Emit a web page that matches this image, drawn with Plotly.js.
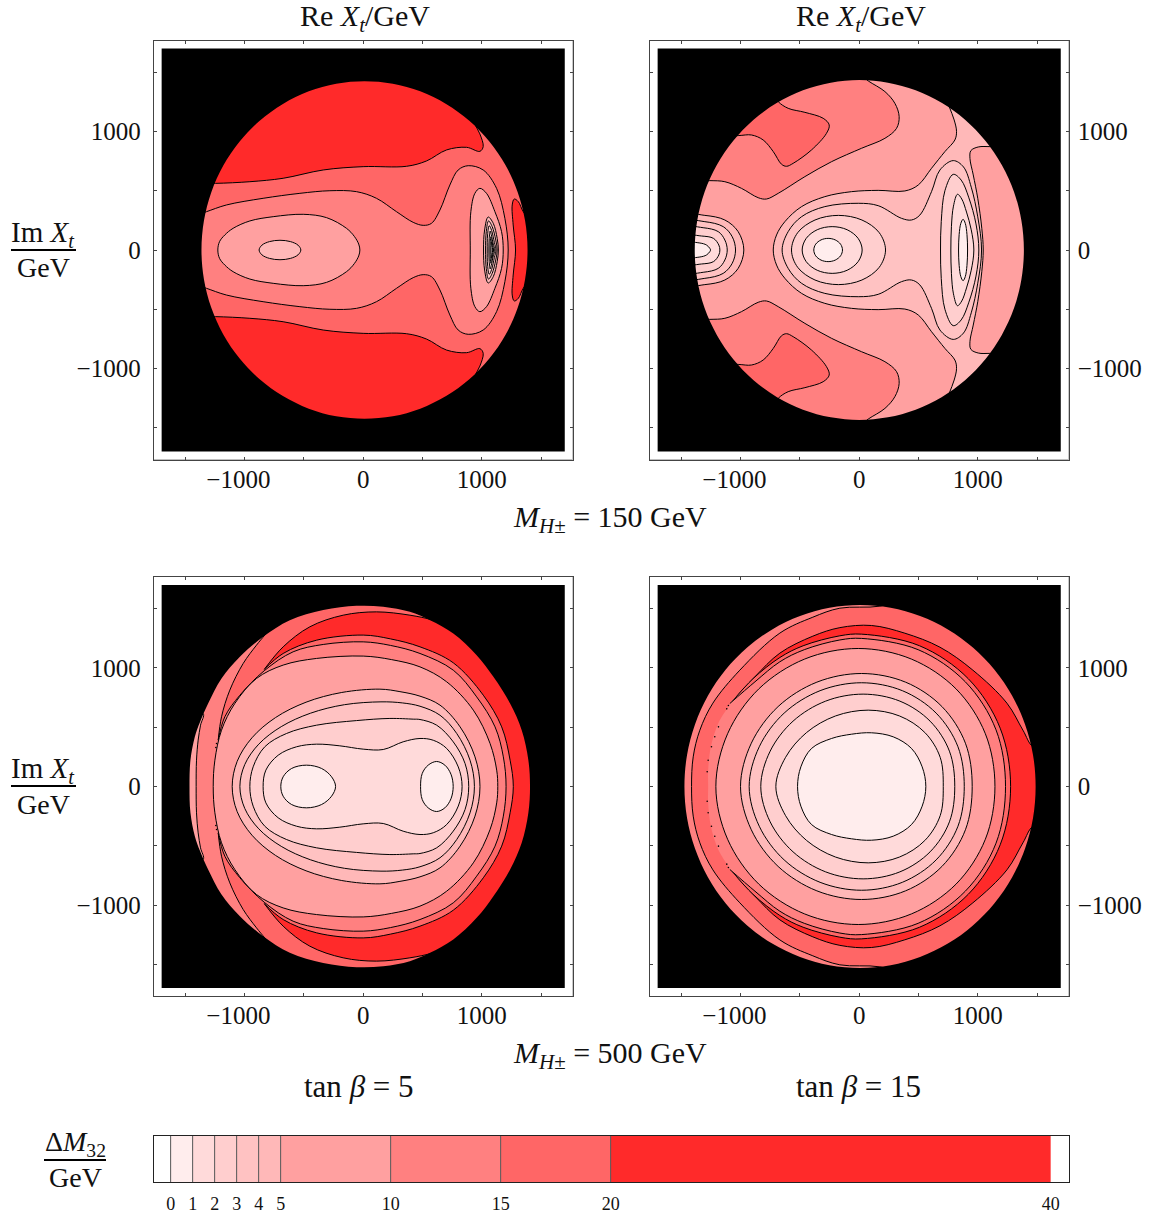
<!DOCTYPE html>
<html><head><meta charset="utf-8">
<script src="https://cdn.plot.ly/plotly-3.0.1.min.js"></script>
<style>html,body{margin:0;padding:0;background:#fff}</style></head>
<body><div id="chart" style="width:1153px;height:1220px"></div>
<script>
// legend bands
const levels=[0,1,2,3,4,5,10,15,20,40];
const bandColors=['#FFEDED','#FFDADA','#FFCECE','#FFC2C2','#FFB8B8','#FFA0A0','#FF8080','#FF6666','#FF2A2A'];
const tickValues=[-1000,0,1000];
const minorTicks=[-1500,-500,500,1500];
const xTickText=['\u22121000\u00A0\u00A0','0','1000'];
const yTickText=['\u22121000','0','1000'];

// region boundaries, upper half (Im Xt >= 0), in GeV
const d1x=[-1364,-1343,-1281,-1180,-1042,-873,-677,-459,-228,11,250,481,699,895,1064,1202,1303,1365,1386];
const d1y=[0,248,487,712,915,1090,1232,1338,1402,1423,1402,1338,1232,1090,915,712,487,248,0];
const d2x=[-1387,-1366,-1304,-1201,-1062,-891,-693,-474,-240,1,242,476,695,893,1064,1203,1306,1368,1389];
const d2y=[0,249,490,716,921,1098,1241,1347,1411,1433,1411,1347,1241,1098,921,716,490,249,0];
const d3x=[-1465,-1457,-1420,-1378,-1308,-1195,-1040,-844,-619,-337,-56,169,394,564,760,957,1098,1239,1337,1393,1407];
const d3y=[0,222,419,540,700,911,1094,1263,1403,1488,1524,1516,1473,1403,1291,1108,925,700,475,222,0];
const d4x=[-1474,-1452,-1385,-1276,-1127,-945,-734,-499,-251,7,265,513,748,959,1141,1290,1399,1466,1488];
const d4y=[0,266,523,765,984,1172,1325,1438,1507,1530,1507,1438,1325,1172,984,765,523,266,0];

// panel 1
const a1_20x=[-1460,-1460,-1246,-956,-675,-337,0,366,534,703,872,984,1012,984,942,914,1600,1600];
const a1_20y=[0,562,562,576,605,675,703,706,751,844,866,832,872,979,1060,1139,1139,0];
const a1_15x=[-1500,-1500,-1406,-1322,-1153,-844,-534,-281,-56,112,281,422,506,576,647,731,801,886,1012,1125,1195,1223];
const a1_15y=[0,290,295,323,380,436,478,500,492,436,323,233,208,225,337,548,675,711,675,520,267,0];
const a1_10x=[-1226,-1212,-1167,-1097,-956,-759,-506,-309,-141,-75,-38,-28];
const a1_10y=[0,70,127,183,245,281,301,273,183,115,50,0];
const a1_5x=[-878,-854,-790,-702,-614,-550,-526];
const a1_5y=[0,41,71,82,71,41,0];
const b1_10x=[903,908,942,984,1040,1111,1167,1181];
const b1_10y=[0,323,478,520,478,323,155,0];
const n1_5x=[1015,1024,1054,1097,1130,1140];
const n1_5y=[0,169,278,225,98,0];
const n1_4x=[1032,1038,1057,1088,1118,1130];
const n1_4y=[0,155,245,197,84,0];
const n1_3x=[1046,1049,1063,1083,1106,1120];
const n1_3y=[0,127,205,165,65,0];
const n1_2x=[1060,1063,1071,1080,1097,1110];
const n1_2y=[0,98,160,130,50,0];
const n1_1x=[1070,1072,1077,1083,1092,1100];
const n1_1y=[0,70,112,90,40,0];
const n1_0x=[1078,1080,1083,1087,1090,1092];
const n1_0y=[0,42,70,50,20,0];
const c1x=[1285,1265,1257,1274,1308,1350,1420,1575,1575];
const c1y=[0,211,380,430,408,323,239,127,0];

// panel 2
const a2_15x=[-1527,-1260,-1133,-993,-852,-782,-683,-458,-233,20,217,315,337,301,217,76,-8,-1527,-1527];
const a2_15y=[585,585,576,520,441,430,478,619,745,858,942,1026,1125,1237,1336,1426,1490,1490,585];
const a2_20x=[-1246,-1021,-908,-810,-725,-655,-613,-557,-402,-276,-253,-304,-458,-599,-683,-740,-1246,-1246];
const a2_20y=[965,965,970,928,830,723,706,731,844,984,1055,1111,1161,1195,1251,1336,1336,965];
const a2_5x=[-725,-697,-627,-486,-290,-65,160,385,498,610,723,807,821,801,759,709,1600,1600];
const a2_5y=[0,127,239,366,450,492,503,498,548,689,830,928,998,1097,1209,1336,1336,0];
const a2_4x=[-650,-599,-486,-290,-8,160,357,441,512,610,681,793,880,945,1000,1032];
const a2_4y=[0,155,281,366,394,374,267,253,295,492,675,754,700,530,280,0];
const b2x=[1046,1034,1000,962,934,942,1004,1102,1172,1600,1600];
const b2y=[0,183,436,633,773,838,869,872,872,872,0];
const c2_3x=[-571,-519,-373,-175,23,169,222];
const c2_3y=[0,146,253,292,253,146,0];
const r2_3x=[686,692,723,793,860,925,985,1009];
const r2_3y=[0,240,500,638,590,440,220,0];
const c2_2x=[-481,-447,-354,-228,-102,-9,25];
const c2_2y=[0,98,171,197,171,98,0];
const r2_2x=[773,778,795,829,865,905,945,967];
const r2_2y=[0,200,370,470,430,320,170,0];
const c2_1x=[-383,-367,-322,-262,-202,-157,-141];
const c2_1y=[0,49,85,98,85,49,0];
const r2_1x=[838,843,857,876,895,909,914];
const r2_1y=[0,130,224,259,224,130,0];
const l2_5x=[-1499,-1499,-1302,-1133,-1021,-973];
const l2_5y=[0,292,292,253,155,0];
const l2_4x=[-1499,-1499,-1302,-1147,-1071,-1043];
const l2_4y=[0,239,239,197,112,0];
const l2_3x=[-1499,-1499,-1316,-1189,-1133,-1113];
const l2_3y=[0,188,188,155,84,0];
const l2_2x=[-1499,-1499,-1330,-1229,-1184,-1175];
const l2_2y=[0,118,118,98,42,0];
const l2_1x=[-1499,-1499,-1344,-1288,-1260,-1254];
const l2_1y=[0,59,59,42,14,0];

// panel 3
const s3x=[-1409,-1406,-1392,-1372,-1350,-1575,-1575];
const s3y=[0,222,391,517,616,616,0];
const w3x=[-1223,-1195,-1125,-1012,-900,-830,-759,-759,1575,1575];
const w3y=[391,588,813,1038,1192,1277,1361,1600,1600,0];
const r3x=[-835,-675,-450,-169,112,394,591,787,1575,1575];
const r3y=[987,1178,1347,1445,1473,1445,1403,1333,1333,0];
const t3x=[-835,-675,-394,0,230,479,760,1013,1168,1239,1266];
const t3y=[987,1122,1234,1277,1245,1178,1043,770,503,222,0];
const u3x=[-1223,-1167,-1040,-835,-591,-337,0,230,479,760,957,1112,1182,1205];
const u3y=[391,588,770,976,1136,1198,1220,1190,1122,981,756,503,250,0];
const v3x=[-1265,-1251,-1195,-1083,-900,-675,-394,0,240,479,704,929,1070,1126,1135];
const v3y=[0,222,475,700,911,1024,1080,1100,1070,1009,883,644,363,138,0];
const i3_5x=[-1105,-1063,-938,-740,-482,-181,141,310,479,648,817,943,985];
const i3_5y=[0,212,411,581,711,793,821,800,762,686,503,250,0];
const i3_4x=[-1040,-999,-881,-691,-445,-158,150,330,479,648,789,901,938];
const i3_4y=[0,185,357,505,618,690,714,705,677,601,447,222,0];
const i3_3x=[-956,-928,-830,-647,-394,-56,225,422,479,620,760,859,890];
const i3_3y=[0,166,335,447,517,556,574,568,565,517,376,194,0];
const i3_2x=[-844,-821,-717,-562,-394,-197,0,169,337,479,591,704,802,834];
const i3_2y=[0,138,264,335,357,343,315,312,377,405,390,321,165,0];
const i3_1ax=[-695,-675,-604,-478,-351,-267,-233];
const i3_1ay=[0,82,152,180,152,82,0];
const i3_1bx=[484,498,548,619,689,740,759];
const i3_1by=[0,110,180,211,180,104,0];
const dots3x=[-1237,-1243];
const dots3y=[363,329];

// panel 4
const o4x=[-1414,-1400,-1344,-1234,-1007,-669,-391,-163,174,441,1566,1566];
const o4y=[0,250,475,703,981,1294,1428,1504,1521,1600,1600,0];
const r4x=[-1071,-880,-669,-391,-163,104,385,681,959,1246,1381,1468,1600,1600];
const r4y=[717,925,1125,1268,1340,1358,1293,1175,981,703,475,335,335,0];
const t4x=[-1071,-896,-669,-473,-163,20,509,920,1189,1277];
const t4y=[717,909,1088,1187,1271,1285,1187,909,492,0];
const u4Lx=[-1274,-1274,-1251,-1189,-1105];
const u4Ly=[0,138,335,531,672];
const u4x=[-1091,-879,-669,-463,-163,20,497,895,1154,1234];
const u4y=[700,883,1052,1154,1236,1249,1154,883,478,0];
const v4x=[-1209,-1110,-847,-460,-8,440,817,1064,1145];
const v4y=[0,445,823,1075,1164,1075,823,445,0];
const i4_5x=[-1001,-910,-684,-357,20,391,698,896,953];
const i4_5y=[0,365,674,880,953,880,674,365,0];
const i4_4x=[-928,-843,-633,-330,20,364,649,833,886];
const i4_4y=[0,335,619,808,875,808,619,335,0];
const i4_3x=[-830,-751,-558,-283,33,343,598,761,806];
const i4_3y=[0,298,551,720,779,720,551,298,0];
const i4_2x=[-703,-621,-444,-200,76,340,554,683,709];
const i4_2y=[0,246,455,595,644,595,455,246,0];
const i4_1x=[-520,-492,-402,-233,-65,104,287,441,531,562];
const i4_1y=[0,166,321,405,441,453,419,321,166,0];
const dots4x=[-1282,-1274,-1246,-1218,-1187,-1117,-1103];
const dots4y=[124,222,335,419,503,655,683];

const W=1153,H=1220,BLACK=1700,FAR=1650,SMOOTH=1;
const traces=[];
function mirror(xs,ys){
  const n=xs.length,mx=[...xs],my=[...ys];
  for(let i=n-1;i>=0;i--){ if(i===n-1&&ys[i]===0)continue; mx.push(xs[i]); my.push(-ys[i]); }
  return [mx,my];
}
// start a closed loop at its straightest vertex, so the seam of the spline does not show
function rotateLoop(x,y){
  const n=x.length-1;
  if(x[0]!==x[n]||y[0]!==y[n])return [x,y];
  let best=0,bestTurn=9;
  for(let i=0;i<n;i++){
    const p=(i+n-1)%n,q=(i+1)%n;
    const a=Math.atan2(y[i]-y[p],x[i]-x[p]),b=Math.atan2(y[q]-y[i],x[q]-x[i]);
    let t=Math.abs(a-b); if(t>Math.PI)t=2*Math.PI-t;
    if(t<bestTurn){bestTurn=t;best=i;}
  }
  const rx=[],ry=[];
  for(let k=0;k<=n;k++){rx.push(x[(best+k)%n]);ry.push(y[(best+k)%n]);}
  return [rx,ry];
}
function poly(p,band,x,y,withLine,shape){
  traces.push({type:'scatter',mode:'lines',x:x,y:y,xaxis:'x'+p,yaxis:'y'+p,fill:'toself',fillcolor:band,
    line:{color:withLine===false?'rgba(0,0,0,0)':'#000',width:withLine===false?0:1,shape:shape||'spline',smoothing:SMOOTH},
    hoverinfo:'skip',showlegend:false});
}
function sym(p,i,xs,ys,withLine){const m=mirror(xs,ys);const r=rotateLoop(m[0],m[1]);poly(p,bandColors[i],r[0],r[1],withLine);}
function both(p,i,xs,ys){poly(p,bandColors[i],xs,ys);poly(p,bandColors[i],xs,ys.map(v=>-v));}
function base(p,i){poly(p,bandColors[i],[-FAR,FAR,FAR,-FAR],[-FAR,-FAR,FAR,FAR],false,'linear');}
function mask(p,xs,ys){
  const m=mirror(xs,ys);const r=rotateLoop(m[0],m[1]);
  const B=3000;
  poly(p,'#000',[-B,-B,B,B,-B,null,...r[0]],[B,-B,-B,B,B,null,...r[1]],false);
  const O=2000;
  poly(p,'#fff',[-O,-O,O,O,-O,null,-BLACK,BLACK,BLACK,-BLACK,-BLACK],[O,-O,-O,O,O,null,BLACK,BLACK,-BLACK,-BLACK,BLACK],false,'linear');
}
function dots(p,xs,ys){
  traces.push({type:'scatter',mode:'markers',x:[...xs,...xs],y:[...ys,...ys.map(v=>-v)],xaxis:'x'+p,yaxis:'y'+p,
    marker:{color:'#000',size:1.6},hoverinfo:'skip',showlegend:false});
}
// panel 1
base(1,8);
sym(1,7,a1_20x,a1_20y); sym(1,6,a1_15x,a1_15y); sym(1,5,a1_10x,a1_10y); sym(1,4,a1_5x,a1_5y);
sym(1,8,c1x,c1y); sym(1,5,b1_10x,b1_10y);
sym(1,4,n1_5x,n1_5y); sym(1,3,n1_4x,n1_4y); sym(1,2,n1_3x,n1_3y); sym(1,1,n1_2x,n1_2y); sym(1,0,n1_1x,n1_1y); sym(1,0,n1_0x,n1_0y);
mask(1,d1x,d1y);
// panel 2
base(2,5);
both(2,6,a2_15x,a2_15y); both(2,7,a2_20x,a2_20y);
sym(2,4,a2_5x,a2_5y); sym(2,5,b2x,b2y); sym(2,3,a2_4x,a2_4y);
sym(2,2,c2_3x,c2_3y); sym(2,1,c2_2x,c2_2y); sym(2,0,c2_1x,c2_1y);
sym(2,2,r2_3x,r2_3y); sym(2,1,r2_2x,r2_2y); sym(2,0,r2_1x,r2_1y);
sym(2,4,l2_5x,l2_5y); sym(2,3,l2_4x,l2_4y); sym(2,2,l2_3x,l2_3y); sym(2,1,l2_2x,l2_2y); sym(2,0,l2_1x,l2_1y);
mask(2,d2x,d2y);
// panel 3
base(3,6);
sym(3,5,s3x,s3y); sym(3,7,w3x,w3y); sym(3,8,r3x,r3y); sym(3,7,t3x,t3y); sym(3,6,u3x,u3y); sym(3,5,v3x,v3y);
sym(3,4,i3_5x,i3_5y); sym(3,3,i3_4x,i3_4y); sym(3,2,i3_3x,i3_3y); sym(3,1,i3_2x,i3_2y); sym(3,0,i3_1ax,i3_1ay); sym(3,0,i3_1bx,i3_1by);
dots(3,dots3x,dots3y);
mask(3,d3x,d3y);
// panel 4
base(4,6);
sym(4,7,o4x,o4y); sym(4,8,r4x,r4y); sym(4,7,t4x,t4y);
sym(4,6,[...u4Lx,...u4x],[...u4Ly,...u4y],false);
(function(){const m=mirror(u4x,u4y);traces.push({type:'scatter',mode:'lines',x:m[0],y:m[1],xaxis:'x4',yaxis:'y4',line:{color:'#000',width:1,shape:'spline',smoothing:SMOOTH},hoverinfo:'skip',showlegend:false});})();
sym(4,5,v4x,v4y);
sym(4,4,i4_5x,i4_5y); sym(4,3,i4_4x,i4_4y); sym(4,2,i4_3x,i4_3y); sym(4,1,i4_2x,i4_2y); sym(4,0,i4_1x,i4_1y);
dots(4,dots4x,dots4y);
mask(4,d4x,d4y);
// legend bar
const mids=[],widths=[];
for(let i=0;i<levels.length-1;i++){mids.push((levels[i]+levels[i+1])/2);widths.push(levels[i+1]-levels[i]);}
traces.push({type:'bar',x:mids,y:mids.map(()=>1),width:widths,marker:{color:bandColors,line:{width:0}},xaxis:'x5',yaxis:'y5',hoverinfo:'skip',showlegend:false});
const lx=[],ly=[];
levels.slice(0,-1).forEach(v=>{lx.push(v,v,null);ly.push(0,1,null);});
traces.push({type:'scatter',mode:'lines',x:lx,y:ly,xaxis:'x5',yaxis:'y5',line:{color:'#555',width:1},hoverinfo:'skip',showlegend:false});

const font='"Liberation Serif",serif';
const frameColor='#444';
function ax(dom,range,extra){return Object.assign({domain:dom,range:range,fixedrange:true,showgrid:false,zeroline:false,showline:true,
  linecolor:frameColor,linewidth:1,mirror:'ticks',ticks:'inside',ticklen:3,tickcolor:frameColor,tickwidth:1,
  tickmode:'array',tickvals:tickValues,tickfont:{family:font,size:25,color:'#111'},
  minor:{tickmode:'array',tickvals:minorTicks,ticks:'inside',ticklen:3,tickcolor:frameColor,tickwidth:1,showgrid:false}},extra);}
const R=[-1767,1767];
const X1=[153.7/W,572.7/W],X2=[649.7/W,1068.7/W];
const Y1=[1-459.5/H,1-40.5/H],Y2=[1-996/H,1-577/H];
const XS=-3,YL=7,YR=3;
const layout={width:W,height:H,margin:{l:0,r:0,t:0,b:0},paper_bgcolor:'#fff',plot_bgcolor:'#fff',showlegend:false,barmode:'overlay',
 xaxis:ax(X1,R,{anchor:'y',ticktext:xTickText,ticklabelstandoff:XS}),
 yaxis:ax(Y1,R,{anchor:'x',ticktext:yTickText,ticklabelstandoff:YL}),
 xaxis2:ax(X2,R,{anchor:'y2',ticktext:xTickText,ticklabelstandoff:XS}),
 yaxis2:ax(Y1,R,{anchor:'x2',side:'right',ticktext:yTickText,ticklabelstandoff:YR}),
 xaxis3:ax(X1,R,{anchor:'y3',ticktext:xTickText,ticklabelstandoff:XS}),
 yaxis3:ax(Y2,R,{anchor:'x3',ticktext:yTickText,ticklabelstandoff:YL}),
 xaxis4:ax(X2,R,{anchor:'y4',ticktext:xTickText,ticklabelstandoff:XS}),
 yaxis4:ax(Y2,R,{anchor:'x4',side:'right',ticktext:yTickText,ticklabelstandoff:YR}),
 xaxis5:{domain:[153.7/W,1068.7/W],range:[-0.77,40.82],anchor:'y5',fixedrange:true,showgrid:false,zeroline:false,showline:true,linecolor:'#222',linewidth:1,mirror:true,
   ticks:'',tickmode:'array',tickvals:levels,ticktext:levels.map(String),tickfont:{family:font,size:18,color:'#111'},ticklabelstandoff:5},
 yaxis5:{domain:[1-1182/H,1-1136/H],range:[0,1],anchor:'x5',fixedrange:true,showgrid:false,zeroline:false,showline:true,linecolor:'#222',linewidth:1,mirror:true,ticks:'',showticklabels:false},
 annotations:[],shapes:[]};
function txt(t,px,py,size){layout.annotations.push({text:t,xref:'paper',yref:'paper',x:px/W,y:1-py/H,xanchor:'center',yanchor:'middle',showarrow:false,font:{family:font,size:size||28,color:'#111'}});}
function rule(x0,x1,py){layout.shapes.push({type:'line',xref:'paper',yref:'paper',x0:x0/W,x1:x1/W,y0:1-py/H,y1:1-py/H,line:{color:'#000',width:2}});}
const reText='Re <i>X</i><sub><i>t</i></sub>/GeV';
txt(reText,365,18,30); txt(reText,861,18,30);
const imText='Im <i>X</i><sub><i>t</i></sub>';
txt(imText,43,234,29); txt('GeV',43,268); rule(11,76,250);
txt(imText,43,770,29); txt('GeV',43,804); rule(11,76,786);
txt('<i>M</i><sub><i>H</i>\u00B1</sub> = 150 GeV',610,519,30);
txt('<i>M</i><sub><i>H</i>\u00B1</sub> = 500 GeV',610,1055,30);
txt('tan <i>\u03B2</i> = 5',359,1086,31);
txt('tan <i>\u03B2</i> = 15',858,1086,31);
txt('\u0394<i>M</i><sub>32</sub>',75,1143); txt('GeV',75,1177); rule(44,106,1160);
Plotly.newPlot('chart',traces,layout,{staticPlot:true,displayModeBar:false});
</script></body></html>
